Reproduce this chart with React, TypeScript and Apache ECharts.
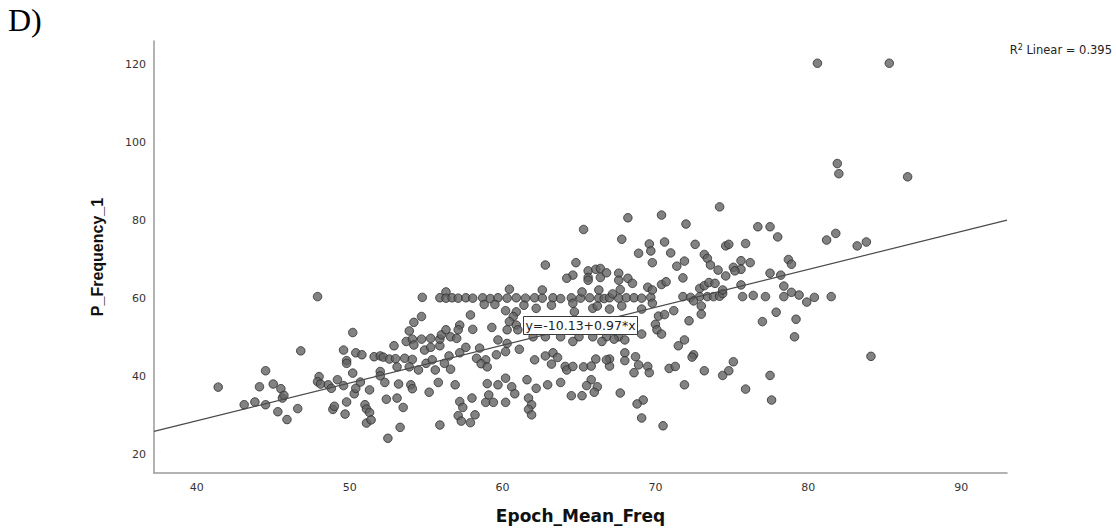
import React, { useEffect, useRef } from "react";
import * as echarts from "echarts";

// Observations: [Epoch_Mean_Freq, P_Frequency_1]
const points: [number, number][] = [
  [41.4,37.3],[43.1,32.8],[43.8,33.5],[44.1,37.4],[44.5,41.5],[44.5,32.8],[45.0,38.1],[45.3,31.0],[45.5,36.9],[45.6,34.5],[45.7,35.2],[45.9,29.0],[46.6,31.8],[46.8,46.6],
  [47.9,60.5],[48.0,40.0],[47.9,38.7],[48.1,38.1],[48.6,37.9],[48.8,37.0],[48.9,31.6],[49.0,32.4],[49.2,39.2],[49.6,46.8],[49.6,37.7],[49.7,30.4],[49.8,44.1],[49.8,43.4],[49.8,33.5],[50.2,51.3],[50.2,40.9],[50.3,35.6],[50.4,46.1],[50.4,37.0],[50.7,38.6],[50.8,45.6],[51.0,32.8],[51.1,31.7],[51.1,28.1],[51.3,36.6],[51.3,30.8],[51.4,28.9],[51.6,45.1],
  [52.0,45.3],[52.2,45.0],[52.6,44.5],[52.9,47.9],[52.0,41.3],[52.0,40.2],[52.3,38.5],[52.4,34.2],[52.5,24.2],[53.1,34.5],[53.3,27.0],[53.1,42.5],[53.2,38.1],[53.7,49.0],[53.9,51.7],[54.1,49.6],[54.2,53.9],[54.2,48.1],[53.6,44.7],[54.1,44.4],[53.9,42.5],[54.5,41.7],[54.0,37.9],[54.1,36.9],[53.5,32.1],[53.0,44.6],
  [54.7,55.4],[54.75,60.3],[54.7,49.6],[54.9,46.8],[55.3,47.5],[55.9,47.9],[55.3,49.8],[55.9,49.6],[56.0,50.7],[56.3,52.0],[56.6,50.2],[57.0,49.8],[55.0,43.4],[55.4,44.3],[56.5,45.3],[56.2,43.4],[55.6,41.7],[56.6,41.9],[55.2,36.0],[55.8,38.5],[56.9,37.9],[55.9,27.6],[56.3,61.7],[55.9,60.2],[56.3,60.1],[56.7,60.2],
  [57.1,60.1],[57.6,60.2],[58.05,60.1],[58.7,60.2],[59.2,60.0],[59.7,60.2],[57.2,53.2],[57.1,52.0],[58.05,52.1],[59.3,52.6],[57.9,55.8],[58.8,58.5],[59.5,58.5],[57.2,46.1],[57.6,47.5],[58.5,47.3],[58.3,44.7],[59.7,49.4],[59.6,45.6],[58.9,44.3],[58.6,43.3],[59.0,42.5],[57.2,33.6],[57.4,32.1],[58.0,34.5],[57.1,30.0],[57.3,28.6],[58.2,30.2],[57.9,28.2],[58.9,33.4],[59.4,33.4],[59.1,35.3],[59.7,37.9],[59.0,38.2],
  [60.3,60.1],[60.9,60.2],[61.5,60.1],[60.45,62.4],[61.4,58.3],[60.2,56.9],[60.9,56.6],[60.7,55.4],[60.45,54.1],[60.9,53.2],[60.3,52.0],[61.0,52.0],[60.3,48.5],[61.1,47.0],[60.2,46.4],[60.2,39.6],[60.6,37.4],[60.8,35.6],[60.2,33.4],[61.6,39.2],[61.7,34.5],[61.9,32.8],[61.7,31.6],[61.9,30.2],
  [62.1,60.2],[62.6,60.1],[63.3,60.2],[63.8,60.0],[62.6,62.2],[63.2,58.3],[62.2,57.5],[62.8,68.6],[62.0,50.2],[62.8,50.2],[63.8,50.2],[62.1,44.3],[62.8,45.3],[63.3,46.1],[63.6,44.9],[63.2,43.2],[64.1,42.6],[64.2,41.7],[62.2,37.0],[62.95,37.9],[63.8,38.5],
  [64.5,60.2],[65.1,60.1],[65.7,60.2],[66.3,60.1],[65.2,61.7],[66.3,62.2],[64.6,58.8],[64.7,56.6],[65.9,57.5],[66.2,58.1],[64.8,69.2],[65.6,67.1],[66.1,67.5],[66.4,67.7],[64.6,66.0],[64.2,65.2],[65.6,65.4],[66.4,65.4],[65.6,64.7],[65.3,77.7],[65.0,50.2],[65.9,50.2],[64.6,49.0],[64.6,42.6],[65.3,42.5],[64.5,35.1],[65.2,35.1],[66.1,44.5],[65.8,42.7],[65.8,39.2],[66.2,37.4],[65.5,37.7],[66.0,36.0],
  [66.65,60.0],[67.0,60.2],[67.6,60.1],[68.1,60.2],[67.2,61.2],[67.7,62.3],[66.8,66.6],[67.6,66.5],[68.2,65.2],[67.6,64.7],[68.5,63.9],[67.0,57.3],[67.8,58.1],[67.8,75.2],[68.2,80.7],[66.8,50.2],[67.6,50.2],[66.5,49.0],[67.3,49.6],[68.0,49.4],[67.0,44.5],[67.0,42.7],[66.8,44.3],[68.0,46.1],[68.0,44.1],[67.7,35.8],
  [68.6,60.2],[69.1,60.1],[69.7,60.3],[68.9,71.6],[69.6,74.0],[69.7,72.2],[69.8,69.2],[69.5,62.9],[69.8,62.2],[69.8,58.8],[69.1,57.3],[69.1,50.9],[70.0,53.4],[70.1,52.0],[68.7,45.1],[68.9,43.0],[69.5,42.6],[69.6,41.0],[68.6,41.0],[69.2,34.0],[68.8,33.0],[69.1,29.4],
  [70.4,81.4],[72.0,79.1],[70.6,74.5],[71.0,71.7],[71.9,69.6],[71.4,68.3],[70.4,63.6],[70.7,64.3],[71.8,65.3],[70.2,55.5],[70.6,55.9],[71.2,56.9],[70.4,50.9],[71.9,49.4],[71.5,47.9],[70.9,42.1],[71.3,42.6],[71.9,37.9],[70.5,27.4],[71.8,60.5],[72.2,54.3],
  [72.3,60.3],[72.9,60.5],[73.4,60.5],[73.8,60.5],[72.6,73.9],[73.2,71.3],[73.4,70.3],[73.6,68.6],[72.9,62.6],[73.2,63.3],[73.5,64.1],[73.9,63.9],[72.5,59.4],[73.0,58.1],[73.0,56.0],[72.5,45.6],[72.4,45.0],[73.2,41.5],[74.2,83.5],[74.1,67.3],
  [74.2,60.6],[74.4,61.3],[74.4,62.2],[74.6,73.5],[74.8,73.9],[75.9,74.1],[74.6,65.8],[75.1,68.0],[75.6,69.7],[75.6,67.5],[75.2,67.1],[75.6,63.5],[75.7,60.5],[74.4,40.3],[74.8,41.5],[75.1,43.8],[75.9,36.8],[76.2,69.2],[76.4,60.8],
  [76.7,78.4],[77.5,78.4],[78.0,75.8],[78.7,70.0],[78.9,68.8],[77.5,66.5],[78.2,66.0],[78.4,63.2],[78.9,61.6],[79.4,60.9],[78.4,60.5],[77.2,60.5],[79.9,59.1],[77.0,54.1],[77.9,56.5],[79.2,54.7],[79.1,50.2],[77.5,40.3],[77.6,34.0],
  [80.4,60.3],[81.5,60.5],[80.6,120.3],[85.3,120.3],[81.9,94.6],[82.0,92.0],[86.5,91.2],[81.2,75.0],[81.8,76.7],[83.2,73.5],[83.8,74.5],[84.1,45.2],
];

const xTicks = [40, 50, 60, 70, 80, 90];
const yTicks = [20, 40, 60, 80, 100, 120];
const xRange = [37.2, 93.0];
const yRange = [15.3, 126.0];
const fitIntercept = -10.13;
const fitSlope = 0.97;
const rSquared = "0.395";
const xTitle = "Epoch_Mean_Freq";
const yTitle = "P_Frequency_1";
const panelLabel = "D)";
const equationText = "y=-10.13+0.97*x";

export default function App() {
  const ref = useRef<HTMLDivElement>(null);
  useEffect(() => {
    const chart = echarts.init(ref.current!, null, { renderer: "svg" });
    const fitLine = xRange.map((x) => [x, fitIntercept + fitSlope * x]);
    const axisLine = { show: true, onZero: false, lineStyle: { color: "#9a9a9a", width: 1.5 } };
    chart.setOption({
      animation: false,
      backgroundColor: "#ffffff",
      grid: { left: 154, right: 109, top: 41, bottom: 56 },
      xAxis: {
        type: "value",
        min: xRange[0],
        max: xRange[1],
        name: xTitle,
        nameLocation: "middle",
        nameGap: 34,
        nameTextStyle: { fontFamily: "DejaVu Sans", fontWeight: "bold", fontSize: 17, color: "#111" },
        axisLine,
        axisTick: { show: false },
        splitLine: { show: false },
        axisLabel: { customValues: xTicks, fontFamily: "DejaVu Sans", fontSize: 11, color: "#333", margin: 9 },
      },
      yAxis: {
        type: "value",
        min: yRange[0],
        max: yRange[1],
        name: yTitle,
        nameLocation: "middle",
        nameGap: 49,
        nameTextStyle: { fontFamily: "Liberation Sans", fontWeight: "bold", fontSize: 16, color: "#111" },
        axisLine,
        axisTick: { show: false },
        splitLine: { show: false },
        axisLabel: { customValues: yTicks, fontFamily: "DejaVu Sans", fontSize: 11, color: "#333", margin: 8 },
      },
      series: [
        {
          type: "scatter",
          data: points,
          symbol: "circle",
          symbolSize: 8.5,
          itemStyle: { color: "#636363", borderColor: "#2a2a2a", borderWidth: 1 },
          z: 2,
        },
        {
          type: "line",
          data: fitLine,
          showSymbol: false,
          symbol: "none",
          lineStyle: { color: "#4a4a4a", width: 1.2 },
          silent: true,
          z: 3,
        },
      ],
      graphic: [
        {
          type: "text",
          x: 8,
          y: 4,
          style: { text: panelLabel, font: "32px 'Liberation Serif'", fill: "#000", verticalAlign: "top" },
        },
        {
          type: "text",
          x: 1112,
          y: 50,
          style: {
            text: "R{sup|2} Linear = " + rSquared,
            font: "11.5px 'DejaVu Sans'",
            fill: "#222",
            align: "right",
            verticalAlign: "middle",
            rich: { sup: { fontSize: 8, fontFamily: "DejaVu Sans", verticalAlign: "top", padding: [0, 0, 6, 0] } },
          },
        },
        {
          type: "rect",
          z: 100,
          shape: { x: 523.5, y: 316.5, width: 114, height: 18 },
          style: { fill: "#ffffff", stroke: "#3a3a3a", lineWidth: 1 },
        },
        {
          type: "text",
          z: 101,
          x: 580.5,
          y: 325.5,
          style: { text: equationText, font: "12.5px 'DejaVu Sans'", fill: "#222", align: "center", verticalAlign: "middle" },
        },
      ],
    });
    return () => chart.dispose();
  }, []);
  return <div ref={ref} style={{ position: "fixed", left: 0, top: 0, width: 1116, height: 529, background: "#fff" }} />;
}
